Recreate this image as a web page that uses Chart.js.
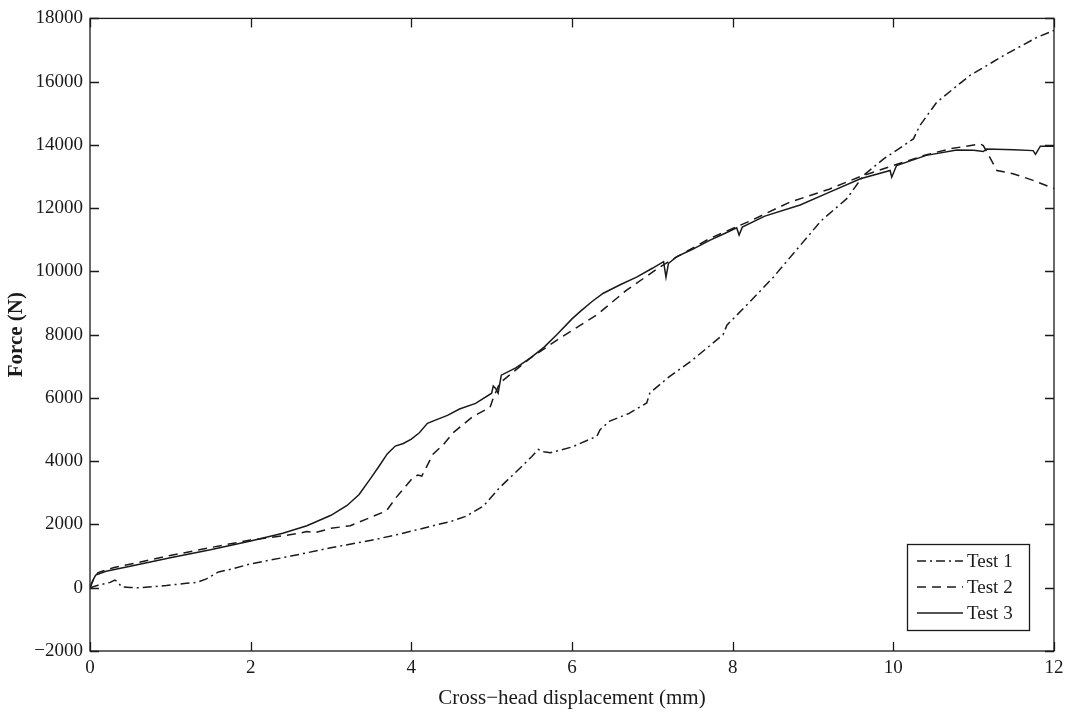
<!DOCTYPE html>
<html>
<head>
<meta charset="utf-8">
<script src="https://cdn.jsdelivr.net/npm/chart.js@4/dist/chart.umd.min.js"></script>
<style>
html,body{margin:0;padding:0;background:#fff;}
#wrap{width:1071px;height:715px;}
</style>
</head>
<body>
<div id="wrap"><canvas id="c" width="1071" height="715"></canvas></div>
<script>
const seriesNames = ["Test 1", "Test 2", "Test 3"];
const xTicks = [0, 2, 4, 6, 8, 10, 12];
const yTicks = [-2000, 0, 2000, 4000, 6000, 8000, 10000, 12000, 14000, 16000, 18000];

const test1X = [0,0.1,0.25,0.31,0.35,0.39,0.5,0.62,0.95,1.2,1.33,1.45,1.6,1.78,1.99,2.5,3.03,3.5,3.86,4.27,4.5,4.69,4.9,5.1,5.3,5.5,5.58,5.65,5.73,6.0,6.31,6.35,6.47,6.7,6.93,6.97,7.2,7.5,7.88,7.93,8.2,8.5,8.8,9.1,9.42,9.63,9.88,10.25,10.33,10.54,10.95,11.37,11.78,12.0];
const test1Y = [0,80,170,240,180,30,10,0,70,140,170,280,500,600,750,1000,1280,1500,1700,1960,2100,2270,2590,3170,3650,4150,4375,4300,4270,4450,4790,5000,5270,5500,5840,6160,6650,7200,8000,8310,9000,9800,10700,11600,12300,13040,13560,14190,14610,15350,16190,16820,17390,17620];

const test2X = [0,0.05,0.1,0.3,0.6,1.0,1.5,2.0,2.4,2.6,2.7,2.8,3.0,3.24,3.44,3.69,3.81,4.02,4.08,4.13,4.27,4.4,4.52,4.77,4.98,5.02,5.1,5.48,5.85,6.31,6.68,7.1,7.2,7.3,7.72,8.22,8.71,9.2,9.59,10.0,10.4,10.71,11.08,11.12,11.29,11.49,11.74,12.0];
const test2Y = [0,300,480,640,800,1020,1270,1510,1640,1720,1780,1740,1880,1960,2170,2430,2850,3480,3560,3530,4220,4530,4900,5420,5700,6000,6470,7260,7890,8630,9410,10150,10300,10450,11050,11600,12190,12600,13000,13350,13680,13880,14030,13980,13190,13090,12880,12620];

const test3X = [0,0.03,0.07,0.2,0.5,1.0,1.5,2.0,2.4,2.7,3.0,3.2,3.35,3.5,3.6,3.7,3.8,3.9,4.0,4.1,4.2,4.3,4.45,4.6,4.8,5.0,5.02,5.05,5.08,5.12,5.3,5.48,5.65,5.81,6.0,6.1,6.25,6.39,6.6,6.81,7.0,7.14,7.17,7.2,7.3,7.5,7.72,7.9,8.05,8.08,8.12,8.4,8.84,9.2,9.59,9.96,9.98,10.04,10.41,10.79,11.0,11.12,11.16,11.5,11.74,11.77,11.83,12.0];
const test3Y = [0,200,400,520,680,950,1200,1480,1720,1960,2290,2600,2950,3480,3850,4230,4480,4560,4700,4900,5200,5300,5450,5650,5830,6150,6380,6300,6150,6720,6950,7260,7600,8000,8500,8730,9050,9310,9580,9830,10100,10310,9820,10250,10460,10700,10990,11200,11380,11150,11400,11750,12100,12500,12930,13190,12980,13350,13670,13840,13830,13790,13870,13850,13820,13700,13960,13960];

function pts(xs, ys){ return xs.map((x,i)=>({x:x, y:ys[i]})); }

const FONT = "'Liberation Serif', 'DejaVu Serif', serif";
const INK = '#1a1a1a';
const dashes = [[9,4,2,4],[9,6],[]];

const framePlugin = {
  id: 'frame',
  afterDatasetsDraw(chart){
    const ctx = chart.ctx, a = chart.chartArea;
    const xs = chart.scales.x, ys = chart.scales.y;
    ctx.save();
    ctx.strokeStyle = INK; ctx.lineWidth = 1.3; ctx.setLineDash([]);
    ctx.strokeRect(a.left, a.top, a.right - a.left, a.bottom - a.top);
    const L = 9;
    ctx.beginPath();
    xTicks.forEach(v => {
      const p = Math.round(xs.getPixelForValue(v)) + 0.5;
      ctx.moveTo(p, a.bottom); ctx.lineTo(p, a.bottom - L);
      ctx.moveTo(p, a.top); ctx.lineTo(p, a.top + L);
    });
    yTicks.forEach(v => {
      const p = Math.round(ys.getPixelForValue(v)) + 0.5;
      ctx.moveTo(a.left, p); ctx.lineTo(a.left + L, p);
      ctx.moveTo(a.right, p); ctx.lineTo(a.right - L, p);
    });
    ctx.stroke();

    // legend (inside plot, lower right)
    const bx = 907, by = 544, bw = 122, bh = 86;
    ctx.fillStyle = '#fff';
    ctx.fillRect(bx, by, bw, bh);
    ctx.strokeRect(bx + 0.5, by + 0.5, bw, bh);
    ctx.font = "19px " + FONT;
    ctx.textBaseline = 'middle';
    ctx.textAlign = 'left';
    chart.data.datasets.forEach((ds, i) => {
      const yy = 561 + i * 26;
      ctx.beginPath();
      ctx.lineWidth = 1.6;
      ctx.setLineDash(ds.borderDash || []);
      ctx.moveTo(917, yy); ctx.lineTo(963, yy);
      ctx.stroke();
      ctx.setLineDash([]);
      ctx.fillStyle = INK;
      ctx.fillText(ds.label, 967, yy + 1);
    });
    ctx.restore();
  }
};

new Chart(document.getElementById('c'), {
  type: 'line',
  data: {
    datasets: [
      {label: seriesNames[0], data: pts(test1X, test1Y), borderDash: dashes[0]},
      {label: seriesNames[1], data: pts(test2X, test2Y), borderDash: dashes[1]},
      {label: seriesNames[2], data: pts(test3X, test3Y), borderDash: dashes[2]}
    ].map(d => Object.assign(d, {borderColor: INK, borderWidth: 1.5, pointRadius: 0, tension: 0, fill: false}))
  },
  options: {
    responsive: false,
    animation: false,
    layout: {padding: {top: 16, right: 17, left: 0, bottom: 0}},
    plugins: {legend: {display: false}, tooltip: {enabled: false}},
    scales: {
      x: {
        type: 'linear', min: 0, max: 12,
        afterBuildTicks: s => { s.ticks = xTicks.map(v => ({value: v})); },
        afterFit: s => { s.height = 64; },
        grid: {display: false, drawTicks: false},
        border: {display: false},
        ticks: {padding: 6, color: INK, font: {family: FONT, size: 19}, maxRotation: 0,
                callback: v => String(v)},
        title: {display: true, text: 'Cross\u2212head displacement (mm)', color: INK,
                font: {family: FONT, size: 21}, padding: {top: 0, bottom: 4}}
      },
      y: {
        type: 'linear', min: -2000, max: 18000,
        afterBuildTicks: s => { s.ticks = yTicks.map(v => ({value: v})); },
        afterFit: s => { s.width = 90; },
        grid: {display: false, drawTicks: false},
        border: {display: false},
        ticks: {padding: 7, color: INK, font: {family: FONT, size: 19},
                callback: v => (v < 0 ? '\u2212' + Math.abs(v) : String(v))},
        title: {display: true, text: 'Force (N)', color: INK,
                font: {family: FONT, size: 21, weight: 'bold'}, padding: {top: 4, bottom: 0}}
      }
    }
  },
  plugins: [framePlugin]
});
</script>
</body>
</html>
